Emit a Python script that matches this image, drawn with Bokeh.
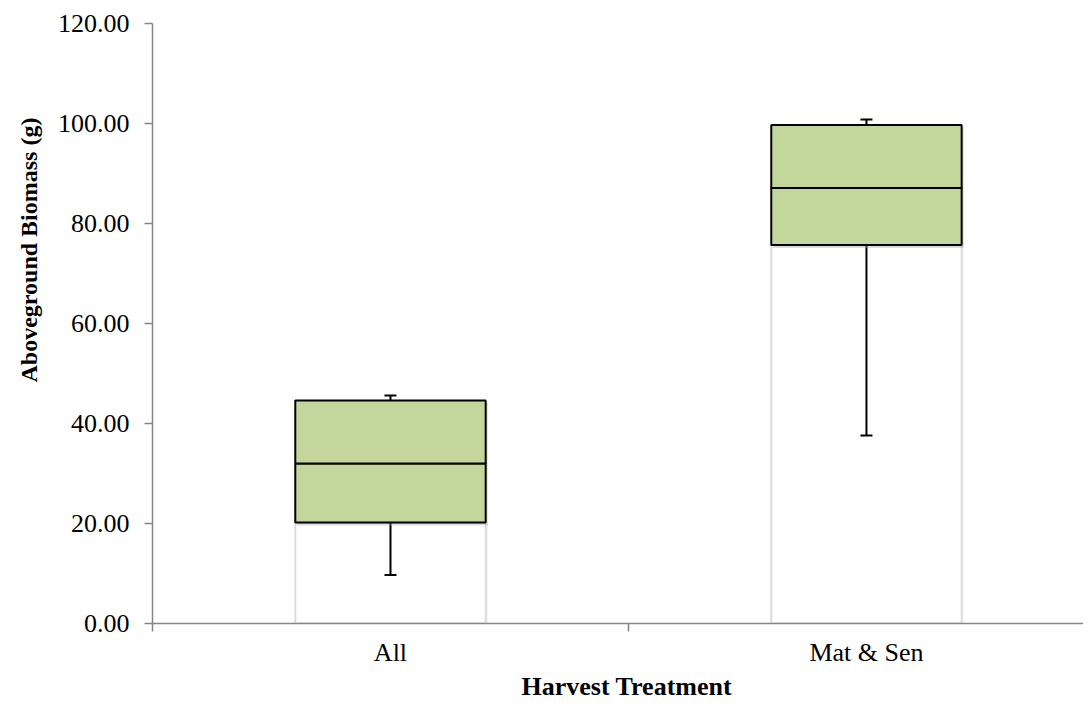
from bokeh.plotting import figure
from bokeh.models import Range1d, FixedTicker, NumeralTickFormatter, Title
from bokeh.embed import file_html
from bokeh.resources import INLINE

categories = ["All", "Mat & Sen"]
minimum = [9.7, 37.6]
q1 = [20.2, 75.7]
median = [32.0, 87.1]
q3 = [44.6, 99.7]
maximum = [45.6, 100.8]

centers = [i + 0.5 for i in range(len(categories))]
BAR_W = 0.40
FONT = "Liberation Serif"
PX_X = 1 / 476.0  # one pixel in x data units
PX_Y = 1 / 5.0    # one pixel in y data units

p = figure(width=1083, height=700, output_backend="svg", toolbar_location=None,
           x_range=Range1d(0, 1.956), y_range=Range1d(0, 120),
           min_border_left=152, min_border_right=0, min_border_top=23, min_border_bottom=77)
p.outline_line_color = None
p.xgrid.visible = False
p.ygrid.visible = False
p.background_fill_color = "white"
p.border_fill_color = "white"

# base bars from 0 to Q1 (with soft shadow)
p.vbar(x=[c + 2 * PX_X for c in centers], bottom=0, top=q1, width=BAR_W,
       fill_color="#d0d0d0", fill_alpha=0.35, line_color=None)
p.vbar(x=centers, bottom=0, top=q1, width=BAR_W, fill_color="white",
       line_color="#dcdcdc", line_width=2)

# whiskers
p.segment(x0=centers, y0=q1, x1=centers, y1=minimum, line_color="black", line_width=2)
p.segment(x0=centers, y0=q3, x1=centers, y1=maximum, line_color="black", line_width=2)
p.scatter(x=centers, y=minimum, marker="dash", size=12, line_color="black", line_width=2)
p.scatter(x=centers, y=maximum, marker="dash", size=12, line_color="black", line_width=2)

# box shadow
p.vbar(x=[c + 2 * PX_X for c in centers], bottom=[v - 3 * PX_Y for v in q1],
       top=[v - 2 * PX_Y for v in q3], width=BAR_W,
       fill_color="#9a9a9a", fill_alpha=0.35, line_color=None)
# boxes
p.vbar(x=centers, bottom=q1, top=median, width=BAR_W, fill_color="#c3d69b",
       line_color="black", line_width=2)
p.vbar(x=centers, bottom=median, top=q3, width=BAR_W, fill_color="#c3d69b",
       line_color="black", line_width=2)

# y axis
ya = p.yaxis[0]
ya.ticker = FixedTicker(ticks=[0, 20, 40, 60, 80, 100, 120])
ya.formatter = NumeralTickFormatter(format="0.00")
ya.axis_line_color = "#868686"
ya.axis_line_width = 1.5
ya.major_tick_line_color = "#868686"
ya.major_tick_line_width = 1.5
ya.major_tick_out = 8
ya.major_tick_in = 0
ya.minor_tick_line_color = None
ya.major_label_text_font = FONT
ya.major_label_text_font_size = "26px"
ya.major_label_text_color = "black"
ya.major_label_standoff = 15

# x axis
xa = p.xaxis[0]
xa.ticker = FixedTicker(ticks=centers, minor_ticks=[0, 1, 2])
xa.major_label_overrides = {c: n for c, n in zip(centers, categories)}
xa.axis_line_color = "#868686"
xa.axis_line_width = 1.5
xa.major_tick_out = 0
xa.major_tick_in = 0
xa.major_tick_line_color = None
xa.minor_tick_line_color = "#868686"
xa.minor_tick_line_width = 1.5
xa.minor_tick_out = 8
xa.minor_tick_in = 0
xa.major_label_text_font = FONT
xa.major_label_text_font_size = "26px"
xa.major_label_text_color = "black"
xa.major_label_standoff = 6

p.add_layout(Title(text="Harvest Treatment", align="left", offset=369,
                   text_font=FONT, text_font_size="26px", text_font_style="bold",
                   text_color="black", standoff=0), "below")
p.add_layout(Title(text="Aboveground Biomass (g)", align="left", offset=241,
                   text_font=FONT, text_font_size="24px", text_font_style="bold",
                   text_color="black", standoff=26), "left")

open("out.html", "w").write(file_html(p, INLINE))
